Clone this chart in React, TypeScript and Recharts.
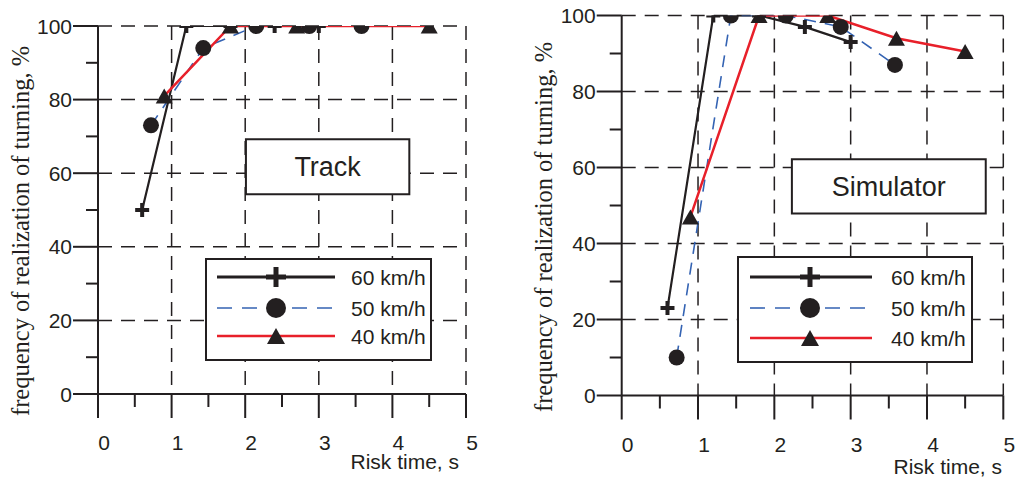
import React from "react";
import {
  ComposedChart,
  Line,
  XAxis,
  YAxis,
  CartesianGrid,
  ReferenceArea,
  Legend,
} from "recharts";

// axes
const xTicks = [0, 0.5, 1, 1.5, 2, 2.5, 3, 3.5, 4, 4.5, 5];
const yTicks = [0, 10, 20, 30, 40, 50, 60, 70, 80, 90, 100];
const gridX = [1, 2, 3, 4, 5];
const gridY = [20, 40, 60, 80, 100];
const seriesNames = ["60 km/h", "50 km/h", "40 km/h"];

// Track panel
const trackX60 = [0.6, 1.2, 1.8, 2.4, 3.0];
const trackY60 = [50, 100, 100, 100, 100];
const trackX50 = [0.72, 1.43, 2.15, 2.87, 3.58];
const trackY50 = [73, 94, 100, 100, 100];
const trackX40 = [0.9, 1.8, 2.7, 4.5];
const trackY40 = [81, 100, 100, 100];

// Simulator panel
const simX60 = [0.6, 1.2, 1.8, 2.4, 3.0];
const simY60 = [23, 100, 100, 97, 93];
const simX50 = [0.72, 1.43, 2.15, 2.87, 3.58];
const simY50 = [10, 100, 100, 97, 87];
const simX40 = [0.9, 1.8, 2.7, 3.6, 4.5];
const simY40 = [47, 100, 100, 94, 90.5];

const SANS = "Liberation Sans, Arial, sans-serif";
const SERIF = "Liberation Serif, DejaVu Serif, Times New Roman, serif";
const INK = "#231f20";
const BLUE = "#3463b3";
const RED = "#e8202a";

const pts = (xs: number[], ys: number[]) => xs.map((x, i) => ({ x, y: ys[i] }));

const lineStyle: Record<string, any> = {
  "60 km/h": { stroke: INK, strokeWidth: 2.2, dash: undefined, marker: "plus" },
  "50 km/h": { stroke: BLUE, strokeWidth: 1.6, dash: "12 9", marker: "circle" },
  "40 km/h": { stroke: RED, strokeWidth: 2.5, dash: undefined, marker: "triangle" },
};

function Marker({ kind, cx, cy, big }: { kind: string; cx: number; cy: number; big?: boolean }) {
  if (cx == null || cy == null) return null;
  if (kind === "plus") {
    const s = big ? 10 : 7;
    const w = big ? 5 : 4;
    return (
      <g>
        <line x1={cx - s} y1={cy} x2={cx + s} y2={cy} stroke={INK} strokeWidth={w} />
        <line x1={cx} y1={cy - s} x2={cx} y2={cy + s} stroke={INK} strokeWidth={w} />
      </g>
    );
  }
  if (kind === "circle") {
    return <circle cx={cx} cy={cy} r={big ? 10 : 8} fill={INK} />;
  }
  const w = big ? 18 : 17;
  const h = big ? 16 : 15;
  return (
    <path
      d={`M${cx},${cy - h / 2} L${cx + w / 2},${cy + h / 2} L${cx - w / 2},${cy + h / 2} Z`}
      fill={INK}
    />
  );
}

const XTick = (props: any) => {
  const { x, y, payload } = props;
  const v = payload.value;
  const major = Number.isInteger(v);
  return (
    <g>
      <line x1={x} y1={y} x2={x} y2={y + (major ? 24 : 13)} stroke={INK} strokeWidth={2} />
      {major && (
        <text x={x + 6} y={y + 56} textAnchor="middle" fontSize={21} style={{ fontFamily: SANS }} fill={INK}>
          {v}
        </text>
      )}
    </g>
  );
};

const YTick = (props: any) => {
  const { x, y, payload } = props;
  const v = payload.value;
  const major = v % 20 === 0;
  return (
    <g>
      <line x1={x - (major ? 25 : 12)} y1={y} x2={x} y2={y} stroke={INK} strokeWidth={2} />
      {major && (
        <text x={x - 26} y={y + 7.5} textAnchor="end" fontSize={21} style={{ fontFamily: SANS }} fill={INK}>
          {v}
        </text>
      )}
    </g>
  );
};

function LegendBox({ w, h, rowY, lineX1, lineX2, markerX, textX }: any) {
  return (
    <svg width={w} height={h} style={{ display: "block" }}>
      <rect x={1} y={1} width={w - 2} height={h - 2} fill="#fff" stroke={INK} strokeWidth={2} />
      {seriesNames.map((name, i) => {
        const st = lineStyle[name];
        const y = rowY[i];
        return (
          <g key={name}>
            <line
              x1={lineX1}
              y1={y}
              x2={lineX2}
              y2={y}
              stroke={st.stroke}
              strokeWidth={name === "60 km/h" ? 3 : st.strokeWidth}
              strokeDasharray={st.dash ? "15 10" : undefined}
            />
            <Marker kind={st.marker} cx={markerX} cy={y} big />
            <text x={textX} y={y + 7.5} fontSize={21} style={{ fontFamily: SANS }} fill={INK}>
              {name}
            </text>
          </g>
        );
      })}
    </svg>
  );
}

function Panel({
  width,
  margin,
  sets,
  box,
  legend,
  yLabelX,
  yLabelY,
  xLabelEnd,
  xLabelBase,
}: any) {
  return (
    <ComposedChart width={width} height={477} margin={margin}>
      <CartesianGrid
        horizontalValues={gridY}
        verticalValues={gridX}
        stroke={INK}
        strokeWidth={1.5}
        strokeDasharray="14 9"
      />
      <XAxis
        type="number"
        dataKey="x"
        domain={[0, 5]}
        ticks={xTicks}
        interval={0}
        height={50}
        tickSize={0}
        tickMargin={0}
        tickLine={false}
        tick={XTick}
        axisLine={{ stroke: INK, strokeWidth: 2 }}
        allowDataOverflow
        label={{
          content: () => (
            <text
              x={xLabelEnd}
              y={xLabelBase}
              textAnchor="end"
              fontSize={21}
              style={{ fontFamily: SANS }}
              fill={INK}
            >
              Risk time, s
            </text>
          ),
        }}
      />
      <YAxis
        type="number"
        domain={[0, 100]}
        ticks={yTicks}
        interval={0}
        width={60}
        tickSize={0}
        tickMargin={0}
        tickLine={false}
        tick={YTick}
        axisLine={{ stroke: INK, strokeWidth: 2 }}
        allowDataOverflow
        label={{
          content: () => (
            <text
              x={yLabelX}
              y={yLabelY}
              transform={`rotate(-90, ${yLabelX}, ${yLabelY})`}
              textAnchor="middle"
              dominantBaseline="central"
              fontSize={24.5}
              style={{ fontFamily: SERIF }}
              fill={INK}
            >
              frequency of realization of turning, %
            </text>
          ),
        }}
      />
      <ReferenceArea
        x1={box.x1}
        x2={box.x2}
        y1={box.y1}
        y2={box.y2}
        fill="#fff"
        fillOpacity={1}
        stroke={INK}
        strokeWidth={2}
        label={{
          value: box.text,
          position: "center",
          fontSize: 27,
          fontFamily: SANS,
          fill: INK,
        }}
      />
      {sets.map((s: any) => {
        const st = lineStyle[s.name];
        return (
          <Line
            key={`l-${s.name}`}
            data={s.data}
            dataKey="y"
            name={s.name}
            type="linear"
            stroke={st.stroke}
            strokeWidth={st.strokeWidth}
            strokeDasharray={st.dash}
            dot={false}
            activeDot={false}
            isAnimationActive={false}
          />
        );
      })}
      {sets.map((s: any) => {
        const st = lineStyle[s.name];
        return (
          <Line
            key={`m-${s.name}`}
            data={s.data}
            dataKey="y"
            name={`${s.name} markers`}
            type="linear"
            stroke="none"
            strokeWidth={0}
            legendType="none"
            dot={(p: any) => <Marker key={p.index} kind={st.marker} cx={p.cx} cy={p.cy} />}
            activeDot={false}
            isAnimationActive={false}
          />
        );
      })}
      <Legend
        layout="horizontal"
        verticalAlign="middle"
        align="center"
        width={legend.w}
        height={legend.h}
        wrapperStyle={{ left: legend.left, top: legend.top, width: legend.w, height: legend.h }}
        content={() => <LegendBox {...legend} />}
      />
    </ComposedChart>
  );
}

export default function App() {
  const trackSets = [
    { name: seriesNames[0], data: pts(trackX60, trackY60) },
    { name: seriesNames[1], data: pts(trackX50, trackY50) },
    { name: seriesNames[2], data: pts(trackX40, trackY40) },
  ];
  const simSets = [
    { name: seriesNames[0], data: pts(simX60, simY60) },
    { name: seriesNames[1], data: pts(simX50, simY50) },
    { name: seriesNames[2], data: pts(simX40, simY40) },
  ];
  return (
    <div
      style={{
        position: "absolute",
        left: 0,
        top: 0,
        width: 1016,
        height: 477,
        background: "#fff",
        overflow: "hidden",
      }}
    >
      <div style={{ position: "absolute", left: 0, top: 0 }}>
        <Panel
          width={500}
          margin={{ top: 26, right: 34, bottom: 33, left: 38 }}
          sets={trackSets}
          box={{ x1: 2.01, x2: 4.23, y1: 54.3, y2: 69.2, text: "Track" }}
          legend={{
            left: 205,
            top: 258,
            w: 227,
            h: 103,
            rowY: [19, 50, 78],
            lineX1: 12,
            lineX2: 130,
            markerX: 71,
            textX: 146,
          }}
          yLabelX={20}
          yLabelY={231}
          xLabelEnd={459}
          xLabelBase={469}
        />
      </div>
      <div style={{ position: "absolute", left: 520, top: 0 }}>
        <Panel
          width={496}
          margin={{ top: 15.5, right: 12.7, bottom: 31.5, left: 41.7 }}
          sets={simSets}
          box={{ x1: 2.23, x2: 4.77, y1: 47.9, y2: 62.2, text: "Simulator" }}
          legend={{
            left: 217,
            top: 256,
            w: 236,
            h: 107,
            rowY: [21, 52, 82],
            lineX1: 13,
            lineX2: 135,
            markerX: 73,
            textX: 154,
          }}
          yLabelX={23}
          yLabelY={227}
          xLabelEnd={482}
          xLabelBase={474}
        />
      </div>
    </div>
  );
}
